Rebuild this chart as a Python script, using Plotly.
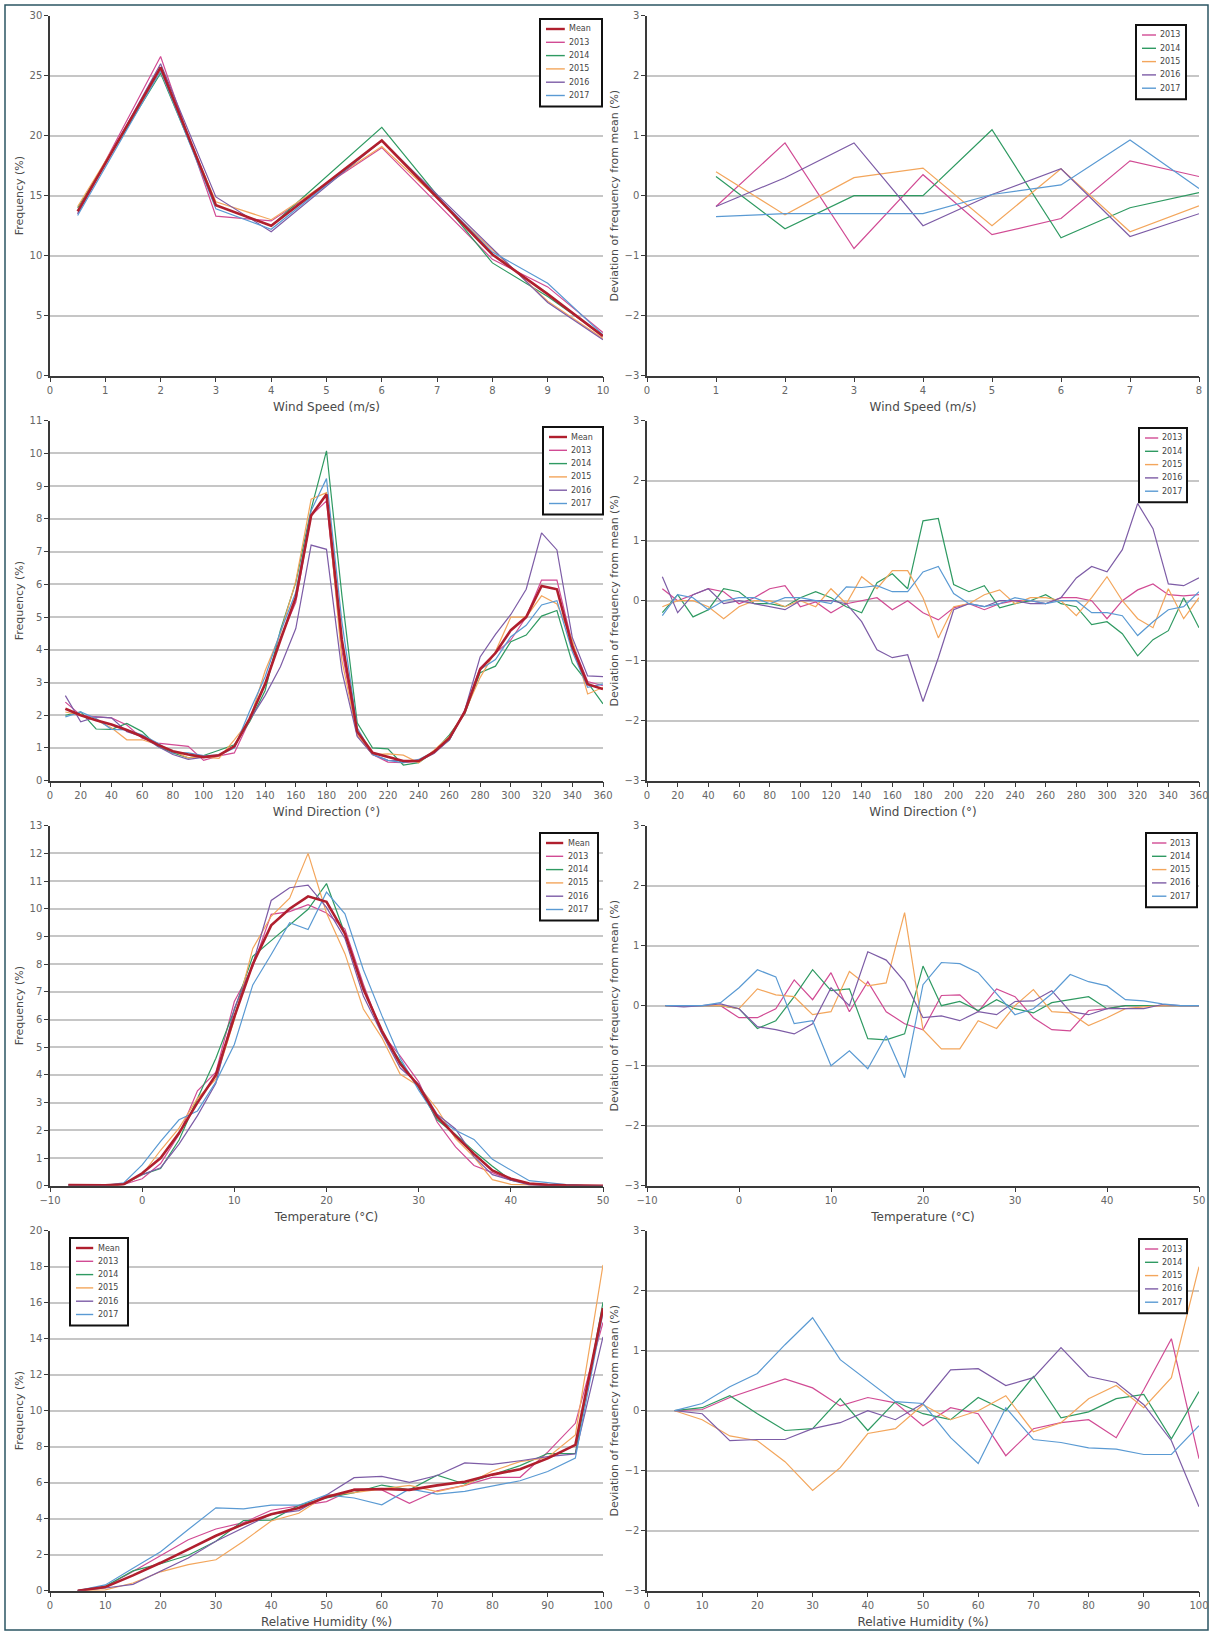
import plotly.graph_objects as go

W, H = 1212, 1631
FONT = "DejaVu Sans"

SERIES = ["Mean", "2013", "2014", "2015", "2016", "2017"]
COLORS = {"Mean": "#b01f2e", "2013": "#d14b94", "2014": "#2f9a62",
          "2015": "#f3a65c", "2016": "#7d5ca6", "2017": "#5a9ad3"}

# ---------------- Wind speed ----------------
WS_X = [0.5, 2, 3, 4, 6, 8, 9, 10]
WS_MEAN = [13.7, 25.7, 14.2, 12.5, 19.6, 10.1, 6.8, 3.3]
WS_2013 = [13.5, 26.6, 13.3, 12.9, 19.0, 9.7, 7.4, 3.6]
WS_2014 = [14.0, 25.2, 14.2, 12.5, 20.7, 9.4, 6.6, 3.35]
WS_2015 = [14.1, 25.4, 14.5, 13.0, 19.1, 10.55, 6.2, 3.1]
WS_2016 = [13.5, 26.0, 14.9, 12.0, 19.6, 10.55, 6.1, 3.0]
WS_2017 = [13.35, 25.4, 13.9, 12.2, 19.6, 10.3, 7.7, 3.4]

WSD_X = [1, 2, 3, 4, 5, 6, 7, 8]
WSD_2013 = [-0.18, 0.88, -0.88, 0.35, -0.65, -0.38, 0.58, 0.32]
WSD_2014 = [0.32, -0.55, 0.0, 0.0, 1.1, -0.7, -0.2, 0.05]
WSD_2015 = [0.4, -0.32, 0.3, 0.46, -0.5, 0.45, -0.6, -0.17]
WSD_2016 = [-0.18, 0.3, 0.88, -0.5, 0.02, 0.45, -0.68, -0.3]
WSD_2017 = [-0.35, -0.3, -0.3, -0.3, 0.02, 0.18, 0.93, 0.12]

# ---------------- Wind direction ----------------
WD_X = [10, 20, 30, 40, 50, 60, 70, 80, 90, 100, 110, 120, 130, 140, 150, 160, 170, 180,
        190, 200, 210, 220, 230, 240, 250, 260, 270, 280, 290, 300, 310, 320, 330, 340, 350, 360]
WD_MEAN = [2.2, 2.0, 1.85, 1.72, 1.55, 1.35, 1.1, 0.9, 0.8, 0.72, 0.78, 1.05, 1.9, 2.95, 4.3, 5.6, 8.1, 8.75,
           4.3, 1.5, 0.85, 0.72, 0.6, 0.6, 0.88, 1.3, 2.1, 3.4, 3.9, 4.6, 5.0, 5.95, 5.85, 4.1, 2.95, 2.8]
WD_2013 = [2.4, 2.0, 1.95, 1.92, 1.7, 1.3, 1.15, 1.1, 1.05, 0.62, 0.76, 0.85, 1.85, 2.95, 4.35, 5.45, 8.1, 8.55,
           3.98, 1.38, 0.8, 0.57, 0.55, 0.6, 0.88, 1.25, 2.15, 3.45, 3.9, 4.3, 5.0, 6.13, 6.13, 4.2, 3.03, 2.9]
WD_2014 = [2.0, 2.1, 1.58, 1.57, 1.75, 1.5, 1.05, 0.85, 0.7, 0.77, 0.93, 1.1, 1.8, 2.75, 4.6, 6.05, 8.3, 10.08,
           5.67, 1.77, 1.0, 0.97, 0.48, 0.55, 0.88, 1.4, 2.05, 3.3, 3.5, 4.25, 4.45, 5.03, 5.2, 3.6, 3.0, 2.35]
WD_2015 = [2.1, 2.0, 1.85, 1.62, 1.25, 1.25, 1.1, 0.9, 0.7, 0.72, 0.68, 1.25, 1.85, 3.35, 4.5, 6.1, 8.6, 8.8,
           3.68, 1.4, 0.8, 0.82, 0.78, 0.55, 0.93, 1.35, 2.1, 3.15, 3.95, 5.0, 5.0, 5.65, 5.4, 4.3, 2.65, 2.85]
WD_2016 = [2.6, 1.8, 1.95, 1.92, 1.5, 1.35, 1.05, 0.8, 0.65, 0.72, 0.78, 1.05, 1.85, 2.6, 3.48, 4.65, 7.2, 7.07,
           3.35, 1.35, 0.8, 0.62, 0.6, 0.6, 0.83, 1.25, 2.15, 3.78, 4.47, 5.08, 5.85, 7.57, 7.05, 4.38, 3.2, 3.18]
WD_2017 = [1.95, 2.1, 1.9, 1.57, 1.55, 1.4, 1.15, 0.85, 0.85, 0.77, 0.78, 1.0, 2.13, 3.17, 4.55, 5.75, 8.25, 9.23,
           4.87, 1.62, 0.8, 0.62, 0.55, 0.65, 0.88, 1.25, 2.1, 3.4, 3.7, 4.4, 4.75, 5.37, 5.5, 3.95, 2.85, 2.95]

WDD_2013 = [0.2, 0.0, 0.1, 0.2, 0.15, -0.05, 0.05, 0.2, 0.25, -0.1, -0.02, -0.2, -0.05, 0.0, 0.05, -0.15, 0.0, -0.2,
            -0.32, -0.12, -0.05, -0.15, -0.05, 0.0, 0.0, -0.05, 0.05, 0.05, 0.0, -0.3, 0.0, 0.18, 0.28, 0.1, 0.08, 0.1]
WDD_2014 = [-0.2, 0.1, -0.27, -0.15, 0.2, 0.15, -0.05, -0.05, -0.1, 0.05, 0.15, 0.05, -0.1, -0.2, 0.3, 0.45, 0.2, 1.33,
            1.37, 0.27, 0.15, 0.25, -0.12, -0.05, 0.0, 0.1, -0.05, -0.1, -0.4, -0.35, -0.55, -0.92, -0.65, -0.5, 0.05, -0.45]
WDD_2015 = [-0.1, 0.0, 0.0, -0.1, -0.3, -0.1, 0.0, 0.0, -0.1, 0.0, -0.1, 0.2, -0.05, 0.4, 0.2, 0.5, 0.5, 0.05,
            -0.62, -0.1, -0.05, 0.1, 0.18, -0.05, 0.05, 0.05, 0.0, -0.25, 0.05, 0.4, 0.0, -0.3, -0.45, 0.2, -0.3, 0.05]
WDD_2016 = [0.4, -0.2, 0.1, 0.2, -0.05, 0.0, -0.05, -0.1, -0.15, 0.0, 0.0, 0.0, -0.05, -0.35, -0.82, -0.95, -0.9, -1.68,
            -0.95, -0.15, -0.05, -0.1, 0.0, 0.0, -0.05, -0.05, 0.05, 0.38, 0.57, 0.48, 0.85, 1.62, 1.2, 0.28, 0.25, 0.38]
WDD_2017 = [-0.25, 0.1, 0.05, -0.15, 0.0, 0.05, 0.05, -0.05, 0.05, 0.05, 0.0, -0.05, 0.23, 0.22, 0.25, 0.15, 0.15, 0.48,
            0.57, 0.12, -0.05, -0.1, -0.05, 0.05, 0.0, -0.05, 0.0, 0.0, -0.2, -0.2, -0.25, -0.58, -0.35, -0.15, -0.1, 0.15]

# ---------------- Temperature ----------------
T_X = [-8, -6, -4, -2, 0, 2, 4, 6, 8, 10, 12, 14, 16, 18, 20, 22, 24, 26, 28, 30,
       32, 34, 36, 38, 40, 42, 44, 46, 48, 50]
T_MEAN = [0.02, 0.01, 0.01, 0.05, 0.45, 1.0, 1.9, 3.0, 4.0, 6.1, 8.0, 9.4, 10.0, 10.45, 10.25, 9.1, 7.1, 5.6, 4.4, 3.6,
          2.5, 1.8, 1.15, 0.55, 0.25, 0.08, 0.03, 0.01, 0.0, 0.0]
T_2013 = [0.02, 0.01, 0.01, 0.05, 0.25, 0.8, 1.85, 3.43, 4.1, 6.65, 7.9, 9.8, 9.9, 10.15, 9.85, 9.27, 7.28, 5.5, 4.68, 3.75,
          2.3, 1.4, 0.73, 0.47, 0.2, 0.08, 0.03, 0.01, 0.0, 0.0]
T_2014 = [0.02, 0.01, 0.01, 0.05, 0.4, 0.62, 1.65, 3.15, 4.6, 6.35, 8.28, 8.85, 9.43, 9.98, 10.91, 9.1, 7.17, 5.52, 4.5, 3.55,
          2.38, 1.85, 1.25, 0.7, 0.2, 0.08, 0.03, 0.01, 0.0, 0.0]
T_2015 = [0.02, 0.01, 0.01, 0.05, 0.4, 1.28, 2.08, 3.15, 3.85, 6.0, 8.57, 9.73, 10.38, 12.0, 9.85, 8.38, 6.38, 5.35, 4.02, 3.6,
          2.77, 1.7, 1.03, 0.22, 0.05, 0.03, 0.01, 0.01, 0.0, 0.0]
T_2016 = [0.02, 0.0, 0.01, 0.08, 0.4, 0.65, 1.5, 2.53, 3.7, 6.4, 8.0, 10.3, 10.76, 10.85, 10.05, 8.93, 6.85, 5.5, 4.25, 3.67,
          2.58, 2.05, 1.05, 0.4, 0.2, 0.03, 0.0, 0.03, 0.0, 0.0]
T_2017 = [0.02, 0.01, 0.01, 0.1, 0.75, 1.6, 2.38, 2.7, 3.75, 5.1, 7.25, 8.35, 9.5, 9.25, 10.6, 9.82, 7.8, 6.15, 4.6, 3.45,
          2.45, 2.0, 1.67, 0.95, 0.58, 0.18, 0.11, 0.04, 0.0, 0.0]

TD_2013 = [0, 0, 0, 0, -0.2, -0.2, -0.05, 0.43, 0.1, 0.55, -0.1, 0.4, -0.1, -0.3, -0.4, 0.17, 0.18, -0.1, 0.28, 0.15,
           -0.2, -0.4, -0.42, -0.08, -0.05, 0, 0, 0, 0, 0]
TD_2014 = [0, 0, 0, 0, -0.05, -0.38, -0.25, 0.15, 0.6, 0.25, 0.28, -0.55, -0.57, -0.47, 0.66, 0, 0.07, -0.08, 0.1, -0.05,
           -0.12, 0.05, 0.1, 0.15, -0.05, 0, 0, 0, 0, 0]
TD_2015 = [0, 0, 0, 0, -0.05, 0.28, 0.18, 0.15, -0.15, -0.1, 0.57, 0.33, 0.38, 1.55, -0.4, -0.72, -0.72, -0.25, -0.38, 0,
           0.27, -0.1, -0.12, -0.33, -0.2, -0.05, -0.02, 0, 0, 0]
TD_2016 = [0, -0.02, 0, 0.03, -0.05, -0.35, -0.4, -0.47, -0.3, 0.3, 0, 0.9, 0.76, 0.4, -0.2, -0.17, -0.25, -0.1, -0.15, 0.07,
           0.08, 0.25, -0.1, -0.15, -0.05, -0.05, -0.05, 0.02, 0, 0]
TD_2017 = [0, 0, 0, 0.05, 0.3, 0.6, 0.48, -0.3, -0.25, -1.0, -0.75, -1.05, -0.5, -1.2, 0.35, 0.72, 0.7, 0.55, 0.2, -0.15,
           -0.05, 0.2, 0.52, 0.4, 0.33, 0.1, 0.08, 0.03, 0, 0]

# ---------------- Relative humidity ----------------
RH_X = [5, 10, 15, 20, 25, 30, 35, 40, 45, 50, 55, 60, 65, 70, 75, 80, 85, 90, 95, 100]
RH_MEAN = [0, 0.2, 0.85, 1.55, 2.3, 3.05, 3.7, 4.25, 4.6, 5.2, 5.6, 5.65, 5.6, 5.85, 6.05, 6.45, 6.75, 7.35, 8.1, 15.7]
RH_2013 = [0, 0.22, 1.07, 1.93, 2.83, 3.43, 3.78, 4.47, 4.73, 4.95, 5.65, 5.6, 4.85, 5.55, 5.85, 6.3, 6.3, 7.7, 9.3, 14.9]
RH_2014 = [0, 0.25, 1.1, 1.5, 1.97, 2.75, 3.9, 3.92, 4.75, 5.15, 5.45, 5.87, 5.6, 6.42, 5.93, 6.43, 6.95, 7.62, 7.63, 16.02]
RH_2015 = [0, 0.05, 0.43, 1.05, 1.45, 1.72, 2.75, 3.87, 4.3, 5.3, 5.45, 5.65, 5.85, 5.5, 5.85, 6.65, 7.17, 7.4, 8.65, 18.1]
RH_2016 = [0, 0.15, 0.35, 1.07, 1.82, 2.75, 3.5, 4.25, 4.45, 5.32, 6.28, 6.35, 6.02, 6.4, 7.1, 7.02, 7.22, 7.45, 7.6, 14.1]
RH_2017 = [0, 0.32, 1.25, 2.17, 3.4, 4.6, 4.55, 4.75, 4.75, 5.32, 5.15, 4.77, 5.65, 5.37, 5.52, 5.83, 6.11, 6.62, 7.37, 15.45]

RHD_2013 = [0, 0.02, 0.22, 0.38, 0.53, 0.38, 0.08, 0.22, 0.13, -0.25, 0.05, -0.05, -0.75, -0.3, -0.2, -0.15, -0.45, 0.35, 1.2, -0.8]
RHD_2014 = [0, 0.05, 0.25, -0.05, -0.33, -0.3, 0.2, -0.33, 0.15, -0.05, -0.15, 0.22, 0.0, 0.57, -0.12, -0.02, 0.2, 0.27, -0.47, 0.32]
RHD_2015 = [0, -0.15, -0.42, -0.5, -0.85, -1.33, -0.95, -0.38, -0.3, 0.1, -0.15, 0.0, 0.25, -0.35, -0.2, 0.2, 0.42, 0.05, 0.55, 2.4]
RHD_2016 = [0, -0.05, -0.5, -0.48, -0.48, -0.3, -0.2, 0.0, -0.15, 0.12, 0.68, 0.7, 0.42, 0.55, 1.05, 0.57, 0.47, 0.1, -0.5, -1.6]
RHD_2017 = [0, 0.12, 0.4, 0.62, 1.1, 1.55, 0.85, 0.5, 0.15, 0.12, -0.45, -0.88, 0.05, -0.48, -0.53, -0.62, -0.64, -0.73, -0.73, -0.25]

# ---------------- Panel definitions ----------------
FREQ_TITLE = "Frequency (%)"
DEV_TITLE = "Deviation of frequency from mean (%)"

# legend boxes: (left px, top px, width px)
panels = [
    dict(x=WS_X, data={"Mean": WS_MEAN, "2013": WS_2013, "2014": WS_2014, "2015": WS_2015, "2016": WS_2016, "2017": WS_2017},
         xr=[0, 10], xd=1, yr=[0, 30], yd=5, xt="Wind Speed (m/s)", yt=FREQ_TITLE, leg=(540, 19, 62)),
    dict(x=WSD_X, data={"2013": WSD_2013, "2014": WSD_2014, "2015": WSD_2015, "2016": WSD_2016, "2017": WSD_2017},
         xr=[0, 8], xd=1, yr=[-3, 3], yd=1, xt="Wind Speed (m/s)", yt=DEV_TITLE, leg=(1136, 25, 50)),
    dict(x=WD_X, data={"Mean": WD_MEAN, "2013": WD_2013, "2014": WD_2014, "2015": WD_2015, "2016": WD_2016, "2017": WD_2017},
         xr=[0, 360], xd=20, yr=[0, 11], yd=1, xt="Wind Direction (°)", yt=FREQ_TITLE, leg=(543, 427, 60)),
    dict(x=WD_X, data={"2013": WDD_2013, "2014": WDD_2014, "2015": WDD_2015, "2016": WDD_2016, "2017": WDD_2017},
         xr=[0, 360], xd=20, yr=[-3, 3], yd=1, xt="Wind Direction (°)", yt=DEV_TITLE, leg=(1139, 428, 48)),
    dict(x=T_X, data={"Mean": T_MEAN, "2013": T_2013, "2014": T_2014, "2015": T_2015, "2016": T_2016, "2017": T_2017},
         xr=[-10, 50], xd=10, yr=[0, 13], yd=1, xt="Temperature (°C)", yt=FREQ_TITLE, leg=(540, 833, 58)),
    dict(x=T_X, data={"2013": TD_2013, "2014": TD_2014, "2015": TD_2015, "2016": TD_2016, "2017": TD_2017},
         xr=[-10, 50], xd=10, yr=[-3, 3], yd=1, xt="Temperature (°C)", yt=DEV_TITLE, leg=(1146, 833, 51)),
    dict(x=RH_X, data={"Mean": RH_MEAN, "2013": RH_2013, "2014": RH_2014, "2015": RH_2015, "2016": RH_2016, "2017": RH_2017},
         xr=[0, 100], xd=10, yr=[0, 20], yd=2, xt="Relative Humidity (%)", yt=FREQ_TITLE, leg=(70, 1238, 58)),
    dict(x=RH_X, data={"2013": RHD_2013, "2014": RHD_2014, "2015": RHD_2015, "2016": RHD_2016, "2017": RHD_2017},
         xr=[0, 100], xd=10, yr=[-3, 3], yd=1, xt="Relative Humidity (%)", yt=DEV_TITLE, leg=(1139, 1239, 48)),
]

# pixel layout of plot areas
COL_X = [(50, 603), (647, 1199)]
ROW_TOP = [15.7, 420.7, 825.7, 1230.7]
PLOT_H = 360.0


def px(xp):
    return xp / W


def py(yp):
    return 1 - yp / H


fig = go.Figure()
shapes = [dict(type="rect", xref="paper", yref="paper",
               x0=px(5), x1=px(1208), y0=py(1630), y1=py(5),
               line=dict(color="#2b5563", width=1.5), layer="below")]
annotations = []
layout = dict(
    width=W, height=H, margin=dict(l=0, r=0, t=0, b=0),
    paper_bgcolor="white", plot_bgcolor="white",
    font=dict(family=FONT, color="#555555", size=10),
    showlegend=False,
)

ROW_GAP = 13.3
for i, p in enumerate(panels):
    r, c = divmod(i, 2)
    n = i + 1
    xs = "" if n == 1 else str(n)
    x0, x1 = COL_X[c]
    top = ROW_TOP[r]
    bot = top + PLOT_H
    dom_x = [px(x0), px(x1)]
    dom_y = [py(bot), py(top)]

    names = [s for s in SERIES if s in p["data"]]
    draw_order = [s for s in names if s != "Mean"] + (["Mean"] if "Mean" in names else [])
    for s in draw_order:
        fig.add_trace(go.Scatter(
            x=p["x"], y=p["data"][s], mode="lines", name=s,
            line=dict(color=COLORS[s], width=2.6 if s == "Mean" else 1.2),
            xaxis="x" + xs, yaxis="y" + xs,
        ))

    layout["xaxis" + xs] = dict(
        domain=dom_x, anchor="y" + xs, range=p["xr"], tick0=p["xr"][0], dtick=p["xd"],
        showline=True, linecolor="#3a3a3a", linewidth=1.5,
        ticks="outside", ticklen=5, tickwidth=1.2, tickcolor="#3a3a3a",
        tickfont=dict(size=10, color="#666666"),
        showgrid=False, zeroline=False, automargin=False,
        title=dict(text=p["xt"], font=dict(size=12, color="#4a4a4a"), standoff=7),
    )
    layout["yaxis" + xs] = dict(
        domain=dom_y, anchor="x" + xs, range=p["yr"], tick0=p["yr"][0], dtick=p["yd"],
        showline=True, linecolor="#3a3a3a", linewidth=1.5,
        ticks="outside", ticklen=4, tickwidth=1.2, tickcolor="#3a3a3a",
        tickfont=dict(size=10, color="#666666"),
        showgrid=True, gridcolor="#c6c6c6", gridwidth=2, zeroline=False, automargin=False,
        title=dict(text=p["yt"], font=dict(size=11, color="#4a4a4a"), standoff=4),
    )

    # legend box (drawn in page pixels)
    lx, ly, lw = p["leg"]
    nitems = len(names)
    lh = 10 + (nitems - 1) * ROW_GAP + 11
    shapes.append(dict(type="rect", xref="paper", yref="paper",
                       x0=px(lx), x1=px(lx + lw), y0=py(ly + lh), y1=py(ly),
                       fillcolor="white", line=dict(color="#111111", width=2), layer="above"))
    for k, s in enumerate(names):
        yy = ly + 10 + k * ROW_GAP
        shapes.append(dict(type="line", xref="paper", yref="paper",
                           x0=px(lx + 6), x1=px(lx + 0.4 * lw), y0=py(yy), y1=py(yy),
                           line=dict(color=COLORS[s], width=2.4 if s == "Mean" else 1.4), layer="above"))
        annotations.append(dict(xref="paper", yref="paper", x=px(lx + 0.44 * lw), y=py(yy),
                                text=s, showarrow=False, xanchor="left", yanchor="middle",
                                font=dict(size=8, color="#444444", family=FONT)))

layout["shapes"] = shapes
layout["annotations"] = annotations
fig.update_layout(**layout)
fig.write_html("out.html", config={"displayModeBar": False},
               post_script="document.body.style.margin='0px';document.body.style.overflow='hidden';")
